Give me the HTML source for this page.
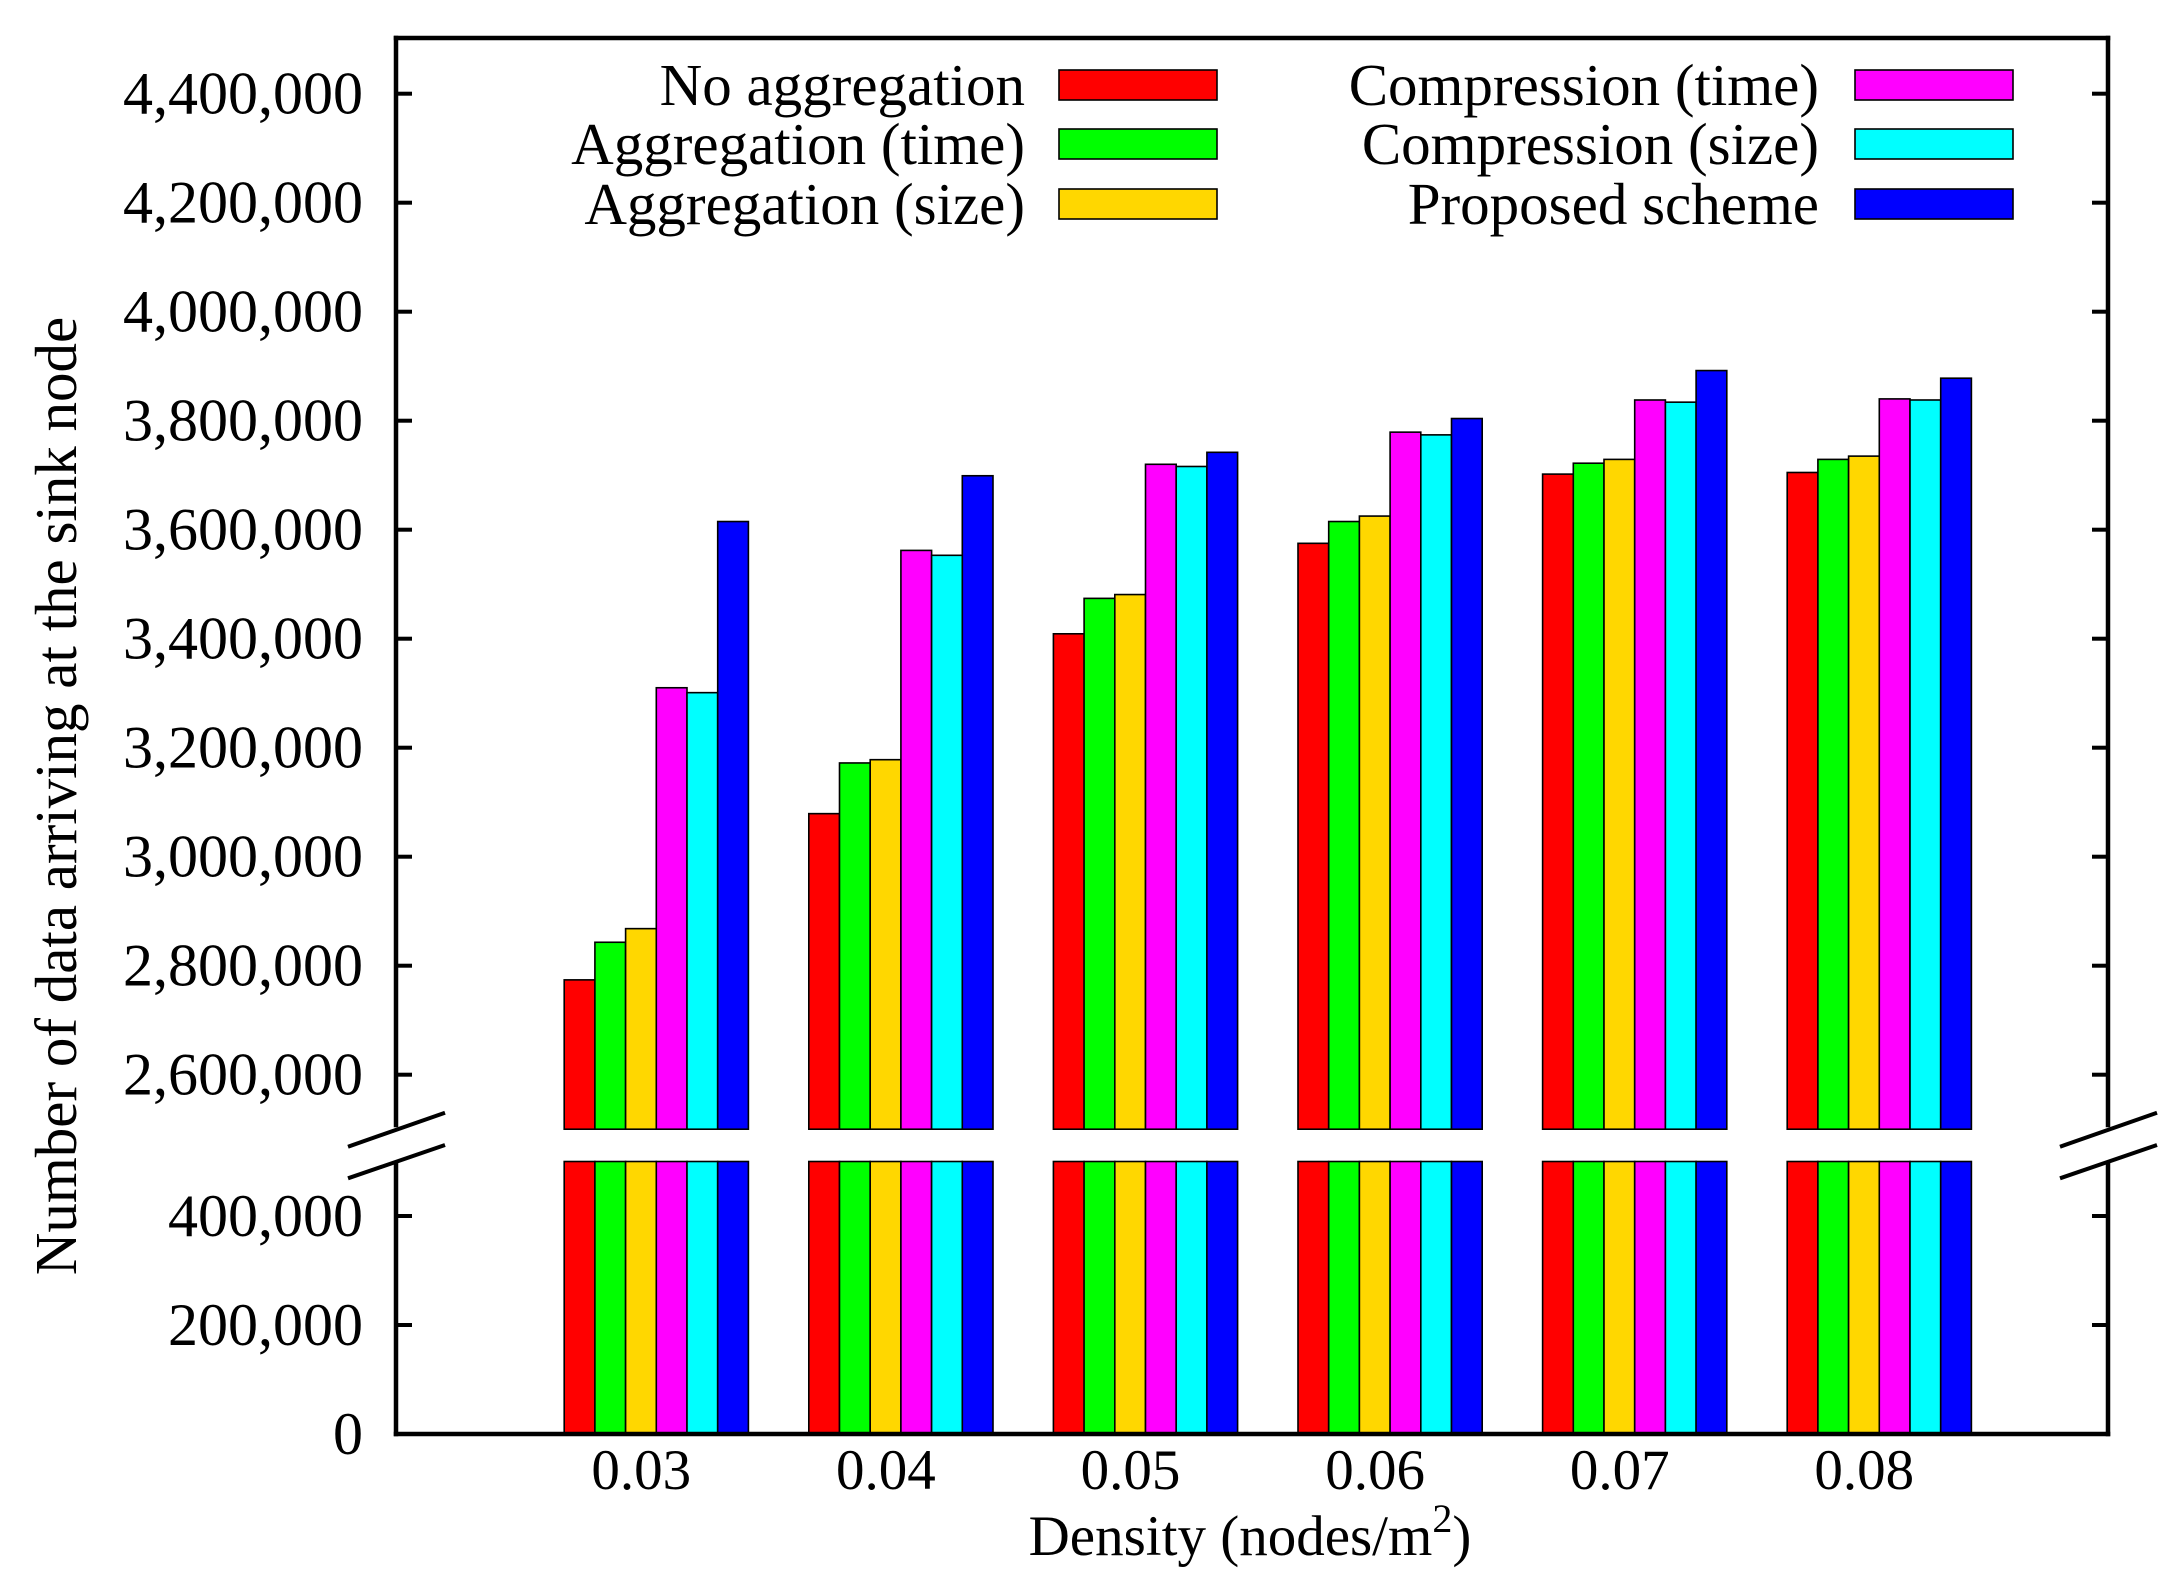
<!DOCTYPE html>
<html><head><meta charset="utf-8"><style>
html,body{margin:0;padding:0;background:#fff;}
svg{display:block;}
text{font-family:"Liberation Serif",serif;fill:#000;}
</style></head><body>
<svg id="chart" width="2178" height="1593" viewBox="0 0 2178 1593" xmlns="http://www.w3.org/2000/svg">
<g id="bars"></g>
<g id="axes"></g>
<g id="legend"></g>
</svg>
<script>
const categories = ["0.03","0.04","0.05","0.06","0.07","0.08"];
const seriesNames = ["No aggregation","Aggregation (time)","Aggregation (size)","Compression (time)","Compression (size)","Proposed scheme"];
const noAggregation = [2774000,3079000,3409000,3575000,3702000,3705000];
const aggregationTime = [2843000,3172000,3474000,3615000,3722000,3729000];
const aggregationSize = [2868000,3178000,3481000,3625000,3729000,3735000];
const compressionTime = [3310000,3562000,3720000,3779000,3838000,3840000];
const compressionSize = [3301000,3553000,3716000,3774000,3834000,3838000];
const proposedScheme = [3615000,3699000,3742000,3804000,3892000,3878000];
const upperTicks = [2600000,2800000,3000000,3200000,3400000,3600000,3800000,4000000,4200000,4400000];
const lowerTicks = [0,200000,400000];
const tickLabelsUpper = ["2,600,000","2,800,000","3,000,000","3,200,000","3,400,000","3,600,000","3,800,000","4,000,000","4,200,000","4,400,000"];
const tickLabelsLower = ["0","200,000","400,000"];

const colors = ["#ff0000","#00ff00","#ffd700","#ff00ff","#00ffff","#0000ff"];
const series = [noAggregation,aggregationTime,aggregationSize,compressionTime,compressionSize,proposedScheme];
const NS="http://www.w3.org/2000/svg";
const L=396,R=2108,T=38,B=1434;
const upperBase=2500000, lowerTop=500000;
function yUpper(v){return 311.7-(v-4000000)*109/200000;}
function yLower(v){return B-v*109/200000;}
const yUpperBase=yUpper(upperBase), yLowerTop=yLower(lowerTop);
function xCenter(i){return 656.3+244.6*i;}
const barW=30.7;
function el(tag,attrs,parent){const e=document.createElementNS(NS,tag);for(const k in attrs)e.setAttribute(k,attrs[k]);parent.appendChild(e);return e;}
const gb=document.getElementById('bars'),ga=document.getElementById('axes'),gl=document.getElementById('legend');

categories.forEach((c,i)=>{
  series.forEach((s,j)=>{
    const x=xCenter(i)-3*barW+j*barW;
    const yt=yUpper(s[i]);
    const r=el('rect',{x:x,y:yt,width:barW,height:yUpperBase-yt,fill:colors[j],stroke:'#000','stroke-width':1.6},gb);
    
    
    const r2=el('rect',{x:x,y:yLowerTop,width:barW,height:B-yLowerTop,fill:colors[j],stroke:'#000','stroke-width':1.6},gb);
    
    
  });
  const t=el('text',{x:xCenter(i)-15,y:1489,'font-size':57,'text-anchor':'middle'},ga);
  t.textContent=c;
  
  
});

const yb1=1129,yb2=1161;
[[L,T,R,T],[L,B,R,B],[L,T,L,yb1-4],[L,yb2+4,L,B],[R,T,R,yb1-4],[R,yb2+4,R,B]].forEach(p=>{
  const ln=el('line',{x1:p[0],y1:p[1],x2:p[2],y2:p[3],stroke:'#000','stroke-width':4.5,'stroke-linecap':'square'},ga);
  
  
});
[L,R].forEach(x0=>{
  [[1146.7,1112.7],[1178.3,1145]].forEach(p=>{
    const ln=el('line',{x1:x0-48,y1:p[0],x2:x0+49,y2:p[1],stroke:'#000','stroke-width':4},ga);
    
    
  });
});
function tick(y,label){
  [[L,L+16],[R-16,R]].forEach(p=>{
    const ln=el('line',{x1:p[0],y1:y,x2:p[1],y2:y,stroke:'#000','stroke-width':4},ga);
    
    
  });
  const t=el('text',{x:363,y:y+20,'font-size':60,'text-anchor':'end'},ga);
  t.textContent=label;
  
  
}
upperTicks.forEach((v,i)=>tick(yUpper(v),tickLabelsUpper[i]));
lowerTicks.forEach((v,i)=>tick(yLower(v),tickLabelsLower[i]));

const xt=el('text',{x:1250,y:1555,'font-size':57,'text-anchor':'middle'},ga);
xt.innerHTML='Density (nodes/m<tspan dy="-23" font-size="40">2</tspan><tspan dy="23">)</tspan>';


const yt=el('text',{x:0,y:0,'font-size':59,'text-anchor':'middle',transform:'translate(76,796) rotate(-90)'},ga);
yt.textContent='Number of data arriving at the sink node';



const legRows=[85,144,204];
seriesNames.forEach((n,j)=>{
  const col=j<3?0:1,row=j%3;
  const tx=col===0?1025:1819, sx=col===0?1059:1855;
  const t=el('text',{x:tx,y:legRows[row]+20,'font-size':59,'text-anchor':'end'},gl);
  t.textContent=n;
  
  
  const r=el('rect',{x:sx,y:legRows[row]-15,width:158,height:30,fill:colors[j],stroke:'#000','stroke-width':1.6},gl);
  
  
});
</script>
</body></html>
